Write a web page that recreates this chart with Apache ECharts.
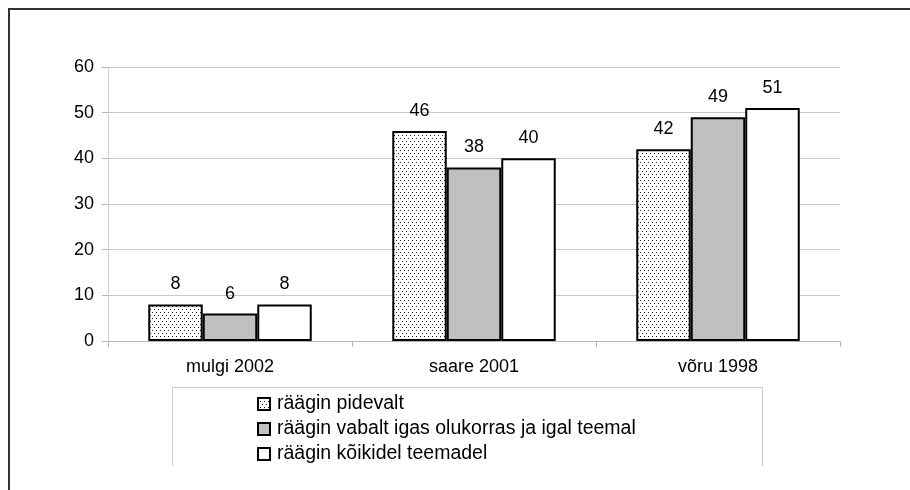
<!DOCTYPE html>
<html>
<head>
<meta charset="utf-8">
<style>
  html, body { margin: 0; padding: 0; background: #fff; }
  #chart { width: 910px; height: 490px; }
</style>
<script src="https://cdn.jsdelivr.net/npm/echarts@6/dist/echarts.min.js"></script>
</head>
<body>
<div id="chart"></div>
<script>
// Categories (dialect, survey year) and the three answer groups, in percent
const categories = ['mulgi 2002', 'saare 2001', 'võru 1998'];
const seriesNames = [
  'räägin pidevalt',
  'räägin vabalt igas olukorras ja igal teemal',
  'räägin kõikidel teemadel'
];
const pidevalt = [8, 46, 42];
const vabalt = [6, 38, 49];
const koikidel = [8, 40, 51];
const yTicks = { min: 0, max: 60, interval: 10 };

// Dotted fill for the first series
function dotPattern() {
  const c = document.createElement('canvas');
  c.width = 4; c.height = 6;
  const g = c.getContext('2d');
  g.fillStyle = '#ffffff';
  g.fillRect(0, 0, 4, 6);
  g.fillStyle = '#222222';
  g.fillRect(0, 0, 1, 1);
  g.fillRect(2, 3, 1, 1);
  return c;
}

const FONT = '"Liberation Sans", Arial, sans-serif';
const chart = echarts.init(document.getElementById('chart'), null, { renderer: 'canvas' });

const labelStyle = {
  show: true,
  position: 'top',
  distance: 11,
  color: '#000',
  fontSize: 18,
  fontFamily: FONT
};

function barSeries(name, data, fill) {
  return {
    name: name,
    type: 'bar',
    data: data,
    barGap: '0%',
    barCategoryGap: '33%',
    itemStyle: { color: fill, borderColor: '#000', borderWidth: 2 },
    label: labelStyle,
    emphasis: { disabled: true }
  };
}

chart.setOption({
  animation: false,
  backgroundColor: '#ffffff',
  grid: { left: 108, right: 70, top: 67, bottom: 149, containLabel: false },
  xAxis: {
    type: 'category',
    data: categories,
    axisLine: { show: true, lineStyle: { color: '#b8b8b8', width: 1 } },
    axisTick: { show: true, length: 6, lineStyle: { color: '#b8b8b8' } },
    axisLabel: { color: '#000', fontSize: 18, fontFamily: FONT, margin: 17 }
  },
  yAxis: {
    type: 'value',
    min: yTicks.min,
    max: yTicks.max,
    interval: yTicks.interval,
    axisLine: { show: true, lineStyle: { color: '#cfcfcf', width: 1 } },
    axisTick: { show: true, length: 6, lineStyle: { color: '#b8b8b8' } },
    axisLabel: { color: '#000', fontSize: 18, fontFamily: FONT, margin: 14 },
    splitLine: { show: true, lineStyle: { color: '#c8c8c8', width: 1 } }
  },
  legend: {
    orient: 'vertical',
    left: 257,
    top: 394,
    padding: 0,
    itemWidth: 12,
    itemHeight: 12,
    itemGap: 5,
    icon: 'rect',
    selectedMode: false,
    itemStyle: { borderColor: '#000', borderWidth: 2 },
    textStyle: { color: '#000', fontSize: 19.5, fontFamily: FONT, padding: [0, 0, 0, 2] },
    data: seriesNames
  },
  graphic: [
    {
      type: 'polyline',
      shape: { points: [[9, 490], [9, 9], [910, 9]] },
      style: { stroke: '#333', lineWidth: 2, fill: null },
      silent: true
    },
    {
      type: 'polyline',
      shape: { points: [[172.5, 466], [172.5, 387.5], [762.5, 387.5], [762.5, 466]] },
      style: { stroke: '#cccccc', lineWidth: 1, fill: null },
      silent: true
    }
  ],
  series: [
    barSeries(seriesNames[0], pidevalt, { image: dotPattern(), repeat: 'repeat' }),
    barSeries(seriesNames[1], vabalt, '#c0c0c0'),
    barSeries(seriesNames[2], koikidel, '#ffffff')
  ]
});
</script>
</body>
</html>
